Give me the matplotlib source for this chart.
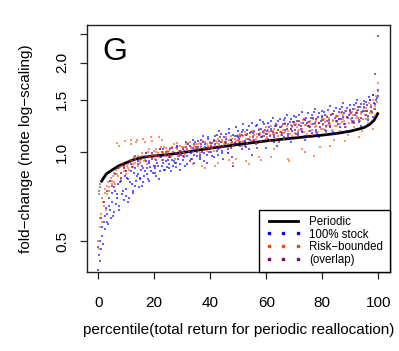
import numpy as np
import matplotlib
matplotlib.use("Agg")
import matplotlib.pyplot as plt
from matplotlib.lines import Line2D

plt.rcParams['font.family'] = ['Liberation Sans', 'DejaVu Sans']

# Periodic reallocation reference curve
periodic_x = [1, 2, 3, 5, 7, 10, 13, 16, 20, 25, 30, 40, 50, 60, 70, 80, 85, 90, 93, 95, 97, 98.5, 99.5, 100]
periodic_y = [0.79, 0.82, 0.845, 0.87, 0.895, 0.92, 0.945, 0.96, 0.97, 0.98, 0.995, 1.03, 1.06, 1.09,
              1.115, 1.14, 1.155, 1.175, 1.195, 1.21, 1.24, 1.28, 1.33, 1.36]
# faint start of the periodic curve (lowest percentiles)
periodic_start_x = [0.2, 0.4, 0.6, 0.8]
periodic_start_y = [0.72, 0.74, 0.76, 0.78]

# 100% stock, fold-change per percentile (two interleaved batches)
stock_y_a = [
    0.40, 0.43, 0.47, 0.52, 0.58, 0.55, 0.62, 0.57, 0.66, 0.60,
    0.68, 0.63, 0.74, 0.70, 0.78, 0.66, 0.80, 0.72, 0.69, 0.83,
    0.75, 0.81, 0.70, 0.86, 0.78, 0.73, 0.88, 0.80, 0.84, 0.76,
    0.82, 0.90, 0.79, 0.86, 0.93, 0.84, 0.80, 0.89, 0.95, 0.85,
    0.88, 0.83, 0.92, 0.97, 0.86, 0.90, 1.02, 0.87, 0.93, 0.89,
    0.91, 0.96, 0.86, 1.00, 0.93, 0.89, 1.05, 0.95, 0.91, 0.98,
    0.94, 1.01, 0.90, 0.97, 1.06, 0.93, 0.99, 1.03, 0.92, 1.08,
    0.97, 1.04, 0.95, 1.10, 1.00, 0.93, 1.06, 0.98, 1.12, 1.02,
    1.00, 1.07, 0.96, 1.13, 1.03, 0.98, 1.09, 1.15, 1.01, 0.95,
    1.05, 1.11, 0.99, 1.16, 1.03, 1.08, 0.90, 1.13, 1.06, 1.18,
    1.07, 1.13, 1.02, 1.19, 1.09, 1.04, 1.15, 1.22, 1.10, 0.98,
    1.12, 1.18, 1.06, 1.23, 1.14, 1.09, 1.20, 1.26, 1.13, 1.03,
    1.15, 1.21, 1.10, 1.27, 1.17, 1.12, 1.24, 1.05, 1.19, 1.29,
    1.17, 1.24, 1.12, 1.30, 1.20, 1.15, 1.26, 1.08, 1.22, 1.32,
    1.19, 1.27, 1.14, 1.33, 1.22, 1.17, 1.29, 1.10, 1.25, 1.35,
    1.22, 1.30, 1.16, 1.36, 1.25, 1.19, 1.31, 1.12, 1.27, 1.38,
    1.24, 1.33, 1.18, 1.39, 1.28, 1.21, 1.34, 1.15, 1.30, 1.41,
    1.27, 1.36, 1.21, 1.42, 1.31, 1.24, 1.37, 1.18, 1.33, 1.44,
    1.30, 1.40, 1.25, 1.46, 1.35, 1.28, 1.42, 1.22, 1.38, 1.49,
    1.33, 1.44, 1.28, 1.50, 1.38, 1.31, 1.46, 1.40, 1.52, 1.55,
]
stock_y_b = [
    0.45, 0.50, 0.56, 0.49, 0.61, 0.65, 0.58, 0.70, 0.64, 0.73,
    0.61, 0.76, 0.67, 0.72, 0.64, 0.79, 0.85, 0.74, 0.88, 0.71,
    0.82, 0.68, 0.79, 0.91, 0.74, 0.85, 0.77, 0.83, 0.93, 0.81,
    0.87, 0.77, 0.83, 0.96, 0.88, 0.81, 0.92, 0.86, 0.99, 0.90,
    0.85, 0.94, 0.90, 0.81, 0.96, 1.00, 0.92, 0.87, 0.98, 0.94,
    0.88, 1.02, 0.94, 0.90, 0.99, 0.92, 1.04, 0.97, 0.87, 1.00,
    1.02, 0.96, 1.08, 0.91, 1.00, 1.05, 0.95, 1.10, 0.98, 1.04,
    1.00, 1.09, 0.96, 1.06, 1.13, 0.99, 1.04, 0.92, 1.11, 1.07,
    1.04, 0.97, 1.10, 1.06, 1.14, 1.02, 1.18, 1.08, 0.99, 1.12,
    1.08, 1.15, 1.02, 1.20, 1.10, 0.96, 1.14, 1.07, 1.21, 1.12,
    1.11, 1.05, 1.17, 1.24, 1.08, 1.14, 1.19, 1.02, 1.16, 1.25,
    1.16, 1.10, 1.22, 1.07, 1.19, 1.28, 1.12, 1.17, 1.24, 1.15,
    1.18, 1.25, 1.13, 1.20, 1.30, 1.08, 1.22, 1.16, 1.27, 1.21,
    1.21, 1.14, 1.28, 1.19, 1.33, 1.24, 1.11, 1.29, 1.18, 1.26,
    1.23, 1.31, 1.16, 1.27, 1.20, 1.36, 1.25, 1.13, 1.30, 1.22,
    1.26, 1.18, 1.33, 1.24, 1.40, 1.29, 1.15, 1.35, 1.21, 1.31,
    1.28, 1.36, 1.22, 1.31, 1.25, 1.43, 1.33, 1.17, 1.38, 1.27,
    1.32, 1.24, 1.40, 1.29, 1.46, 1.35, 1.21, 1.41, 1.30, 1.37,
    1.35, 1.27, 1.44, 1.33, 1.50, 1.39, 1.26, 1.45, 1.36, 1.42,
    1.38, 1.47, 1.32, 1.53, 1.42, 1.36, 1.56, 1.45, 1.50, 1.62,
]

# Risk-bounded, fold-change per percentile (two interleaved batches)
risk_y_a = [
    0.50, 0.56, 0.62, 0.70, 0.66, 0.75, 0.72, 0.79, 0.76, 0.82,
    0.80, 0.85, 0.78, 1.07, 0.83, 0.88, 0.81, 0.90, 0.86, 1.09,
    0.84, 0.91, 0.87, 1.10, 0.93, 0.89, 0.95, 1.08, 0.90, 0.96,
    0.92, 0.97, 1.11, 0.94, 0.99, 0.91, 1.02, 0.96, 1.09, 0.98,
    0.95, 1.00, 0.97, 1.12, 1.02, 0.94, 0.99, 1.04, 0.97, 1.01,
    0.98, 1.03, 0.96, 1.00, 1.06, 0.99, 1.02, 0.97, 1.05, 1.01,
    1.00, 1.04, 0.98, 1.02, 1.07, 0.93, 1.03, 1.00, 1.05, 1.02,
    1.02, 1.06, 0.99, 1.04, 0.90, 1.03, 1.08, 1.01, 1.05, 1.03,
    1.04, 1.07, 1.01, 1.05, 1.09, 0.92, 1.06, 1.03, 1.08, 1.05,
    1.06, 1.09, 1.03, 0.94, 1.07, 1.11, 1.05, 1.08, 0.95, 1.10,
    1.08, 1.12, 1.05, 1.09, 1.14, 0.93, 1.07, 1.11, 1.16, 1.09,
    1.10, 1.14, 1.07, 1.12, 0.96, 1.16, 1.09, 1.13, 1.18, 1.11,
    1.12, 1.17, 1.09, 0.96, 1.15, 1.20, 1.11, 1.16, 1.13, 1.21,
    1.14, 1.19, 1.11, 1.17, 1.22, 0.95, 1.15, 1.20, 1.13, 1.24,
    1.16, 1.21, 1.13, 1.19, 1.25, 1.02, 1.17, 1.23, 1.15, 1.26,
    1.18, 1.24, 1.14, 0.97, 1.21, 1.27, 1.17, 1.25, 1.20, 1.29,
    1.20, 1.26, 1.16, 1.23, 1.30, 1.05, 1.19, 1.28, 1.22, 1.32,
    1.22, 1.29, 1.18, 1.26, 1.33, 1.09, 1.21, 1.31, 1.25, 1.35,
    1.25, 1.33, 1.21, 1.30, 1.38, 1.12, 1.27, 1.36, 1.29, 1.41,
    1.29, 1.38, 1.25, 1.35, 1.44, 1.20, 1.40, 1.33, 1.47, 1.71,
]
risk_y_b = [
    0.47, 0.60, 0.58, 0.68, 0.73, 0.64, 0.77, 0.74, 0.80, 0.78,
    0.83, 0.79, 0.87, 0.84, 1.05, 0.89, 0.85, 0.92, 0.88, 0.86,
    0.90, 0.88, 0.94, 1.06, 0.91, 0.96, 0.92, 1.10, 0.97, 0.93,
    0.95, 0.99, 0.93, 1.08, 0.97, 1.00, 0.96, 1.12, 0.98, 1.01,
    0.97, 1.02, 0.99, 0.96, 1.04, 1.10, 1.00, 0.98, 1.03, 1.00,
    1.01, 0.97, 1.04, 1.00, 0.95, 1.03, 1.07, 1.01, 0.99, 1.04,
    1.03, 0.99, 1.06, 1.02, 1.01, 1.08, 1.04, 0.91, 1.02, 1.06,
    1.04, 1.01, 1.07, 1.05, 1.09, 1.03, 0.88, 1.06, 1.04, 1.08,
    1.06, 1.03, 1.09, 0.90, 1.07, 1.11, 1.05, 1.08, 1.10, 1.06,
    1.08, 1.12, 1.06, 1.10, 1.13, 1.07, 0.92, 1.11, 1.09, 1.14,
    1.10, 1.15, 1.08, 1.13, 1.17, 1.11, 1.14, 0.91, 1.12, 1.18,
    1.13, 1.17, 1.11, 1.15, 1.20, 1.14, 0.94, 1.18, 1.16, 1.21,
    1.15, 1.19, 1.14, 1.22, 1.18, 1.02, 1.16, 1.23, 1.19, 1.17,
    1.17, 1.22, 1.16, 1.25, 1.20, 1.18, 0.93, 1.23, 1.21, 1.26,
    1.19, 1.24, 1.18, 1.27, 1.22, 1.20, 1.28, 1.00, 1.23, 1.26,
    1.21, 1.27, 1.19, 1.29, 1.24, 1.22, 1.30, 1.25, 1.04, 1.28,
    1.23, 1.29, 1.21, 1.32, 1.26, 1.24, 1.33, 1.27, 1.10, 1.31,
    1.26, 1.32, 1.24, 1.35, 1.29, 1.27, 1.37, 1.30, 1.14, 1.34,
    1.29, 1.36, 1.27, 1.40, 1.32, 1.30, 1.42, 1.34, 1.18, 1.38,
    1.33, 1.41, 1.30, 1.46, 1.37, 1.35, 1.50, 1.43, 1.55, 1.60,
]

# Points where both strategies coincide (overlap)
overlap_y = [
    0.48, 0.60, 0.68, 0.74, 0.80, 0.77, 0.84, 0.88, 0.82, 0.90,
    0.86, 0.93, 0.89, 0.97, 0.91, 0.95, 0.88, 0.99, 0.93, 0.96,
    0.90, 0.98, 1.02, 0.94, 1.00, 0.96, 1.03, 0.92, 0.99, 1.01,
    0.97, 1.04, 1.00, 0.95, 1.06, 1.02, 0.98, 1.08, 1.03, 1.00,
    1.05, 1.09, 1.01, 1.12, 1.04, 1.07, 0.99, 1.10, 1.06, 1.13,
    1.08, 1.14, 1.05, 1.11, 1.17, 1.09, 1.03, 1.15, 1.12, 1.19,
    1.11, 1.18, 1.14, 1.22, 1.08, 1.16, 1.24, 1.13, 1.20, 1.26,
    1.15, 1.23, 1.18, 1.28, 1.12, 1.21, 1.30, 1.17, 1.25, 1.32,
    1.19, 1.27, 1.22, 1.34, 1.16, 1.29, 1.36, 1.24, 1.31, 1.39,
    1.26, 1.35, 1.42, 1.30, 1.45, 1.38, 1.50, 1.56, 1.83, 2.47,
]

x_ticks = [0, 20, 40, 60, 80, 100]
y_ticks = [0.5, 1.0, 1.5, 2.0, 2.5]
y_ticklabels = ['0.5', '1.0', '1.5', '2.0', '']
legend_labels = ['Periodic', '100% stock', 'Risk\u2212bounded', '(overlap)']

stock_y = stock_y_a + stock_y_b
risk_y = risk_y_a + risk_y_b
stock_x = np.concatenate([np.linspace(0, 100, len(stock_y_a)), np.linspace(0.25, 99.75, len(stock_y_b))])
risk_x = np.concatenate([np.linspace(0, 100, len(risk_y_a)), np.linspace(0.25, 99.75, len(risk_y_b))])
overlap_x = np.linspace(0, 100, len(overlap_y))

fig = plt.figure(figsize=(3.99, 3.51), dpi=100)
ax = fig.add_axes([87 / 399, 1 - 272 / 351, (389.5 - 87) / 399, (272 - 25) / 351])

ax.set_yscale('log')
ax.plot(periodic_x, periodic_y, color='black', lw=2.0, zorder=2, solid_capstyle='butt')
ax.scatter(periodic_start_x, periodic_start_y, s=4, marker='s', color='#999999', linewidths=0, zorder=2)
ms = 4.2
ax.scatter(stock_x, stock_y, s=ms, marker='s', color='#0000FF', alpha=0.62, linewidths=0, zorder=3)
ax.scatter(risk_x, risk_y, s=ms, marker='s', color='#FF4500', alpha=0.58, linewidths=0, zorder=3)
ax.scatter(overlap_x, overlap_y, s=ms, marker='s', color='#800080', alpha=0.65, linewidths=0, zorder=3)

ax.set_xlim(-4, 104)
ax.set_ylim(0.394, 2.68)
ax.set_xticks(x_ticks)
ax.set_xticklabels([str(v) for v in x_ticks])
ax.set_yticks(y_ticks)
ax.set_yticklabels(y_ticklabels)
ax.yaxis.set_minor_locator(matplotlib.ticker.NullLocator())
ax.tick_params(axis='both', direction='out', length=5, width=0.9, labelsize=11, color='#222222')
ax.tick_params(axis='x', pad=12)
ax.tick_params(axis='y', pad=8, labelrotation=90)
for lab in ax.get_yticklabels():
    lab.set_va('center')

for sp in ax.spines.values():
    sp.set_linewidth(1.0)
    sp.set_color('#222222')

ax.set_xlabel('percentile(total return for periodic reallocation)', fontsize=11)
ax.set_ylabel('fold\u2212change (note log\u2212scaling)', fontsize=11)
ax.xaxis.set_label_coords(0.5, -0.205)
ax.yaxis.set_label_coords(-0.177, 0.5)

ax.text(0.052, 0.858, 'G', transform=ax.transAxes, fontsize=23, va='baseline', ha='left')

handles = [
    Line2D([], [], color='black', lw=2.0),
    Line2D([], [], color='#0000FF', marker='s', markersize=1.8, linestyle='none'),
    Line2D([], [], color='#FF4500', marker='s', markersize=1.8, linestyle='none'),
    Line2D([], [], color='#800080', marker='s', markersize=1.8, linestyle='none'),
]
leg = ax.legend(handles, legend_labels, loc='lower right', bbox_to_anchor=(1, 0),
                borderaxespad=0, fontsize=8.3, numpoints=3, handlelength=3.1,
                handletextpad=0.7, labelspacing=0.05, borderpad=0.55, fancybox=False,
                framealpha=1, edgecolor='black')
leg.get_frame().set_linewidth(1.0)

fig.savefig('out.png', dpi=100)
